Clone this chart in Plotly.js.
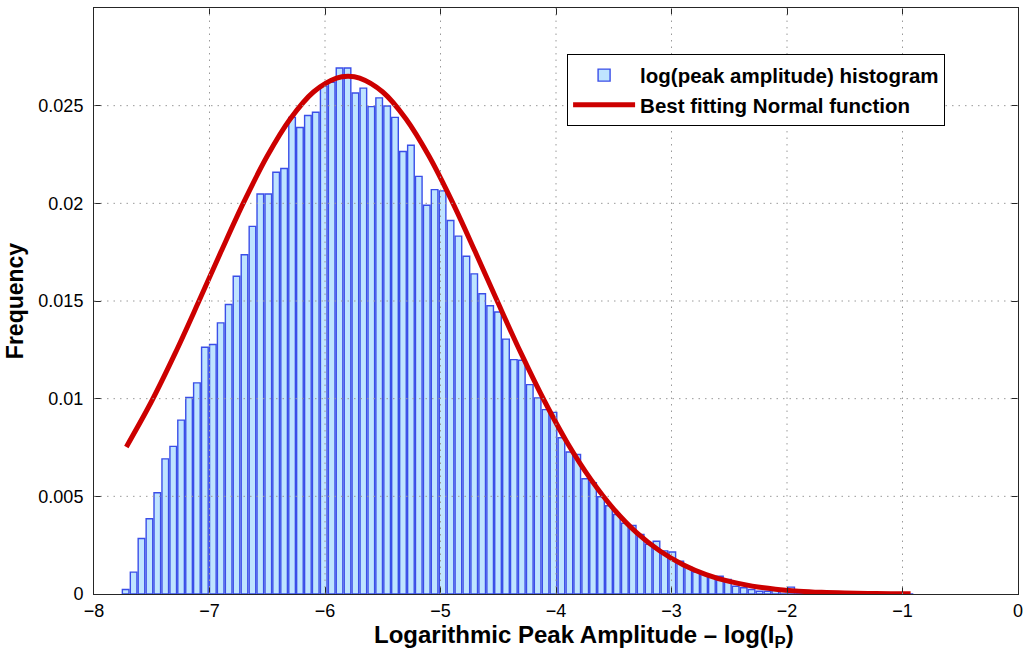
<!DOCTYPE html>
<html><head><meta charset="utf-8">
<script src="https://cdn.plot.ly/plotly-3.0.1.min.js"></script>
<style>html,body{margin:0;padding:0;background:#fff}#chart{width:1024px;height:653px}</style>
</head><body><div id="chart"></div>
<script>
// Histogram bin centres (log peak amplitude)
const binCenters = [-7.726,-7.657,-7.589,-7.520,-7.452,-7.383,-7.314,-7.246,-7.177,-7.109,
  -7.040,-6.971,-6.903,-6.834,-6.766,-6.697,-6.628,-6.560,-6.491,-6.423,
  -6.354,-6.285,-6.217,-6.148,-6.080,-6.011,-5.942,-5.874,-5.805,-5.737,
  -5.668,-5.599,-5.531,-5.462,-5.394,-5.325,-5.256,-5.188,-5.119,-5.051,
  -4.982,-4.913,-4.845,-4.776,-4.708,-4.639,-4.570,-4.502,-4.433,-4.365,
  -4.296,-4.227,-4.159,-4.090,-4.022,-3.953,-3.884,-3.816,-3.747,-3.679,
  -3.610,-3.541,-3.473,-3.404,-3.336,-3.267,-3.198,-3.130,-3.061,-2.993,
  -2.924,-2.855,-2.787,-2.718,-2.650,-2.581,-2.512,-2.444,-2.375,-2.307,
  -2.238,-2.169,-2.101,-2.032,-1.964,-1.895,-1.826,-1.758,-1.689,-1.621,
  -1.552,-1.483,-1.415,-1.346,-1.278,-1.209,-1.140,-1.072,-1.003,-0.935];

// Histogram frequencies
const frequency = [0.00023,0.00112,0.00284,0.00385,0.00518,0.00692,0.00756,0.00890,0.01006,0.01081,
  0.01263,0.01277,0.01388,0.01482,0.01627,0.01737,0.01882,0.02048,0.02048,0.02159,
  0.02178,0.02440,0.02388,0.02450,0.02466,0.02600,0.02620,0.02693,0.02693,0.02565,
  0.02590,0.02495,0.02540,0.02498,0.02440,0.02265,0.02297,0.02138,0.01990,0.02070,
  0.02064,0.01912,0.01832,0.01729,0.01639,0.01537,0.01476,0.01444,0.01305,0.01200,
  0.01197,0.01072,0.01004,0.00944,0.00930,0.00800,0.00727,0.00714,0.00590,0.00570,
  0.00498,0.00452,0.00407,0.00362,0.00351,0.00305,0.00255,0.00270,0.00221,0.00215,
  0.00168,0.00139,0.00112,0.00100,0.00085,0.00091,0.00074,0.00040,0.00032,0.00023,
  0.00014,0.00014,0.00020,0.00014,0.00035,0.00005,0.00003,0.00002,0.00002,0.00001,
  0.00001,0.00001,0,0,0,0,0,0,0,0];

// Best fitting Normal curve
const fitX = [-7.72,-7.5,-7.3,-7.1,-6.9,-6.7,-6.5,-6.3,-6.1,-5.9,-5.8,-5.7,-5.5,-5.3,-5.1,-4.9,
  -4.7,-4.5,-4.3,-4.1,-3.9,-3.7,-3.5,-3.3,-3.1,-2.9,-2.7,-2.5,-2.3,-2.1,-1.9,-1.7,-1.5,-1.3,-1.1,-0.93];
const fitY = [0.00753,0.00988,0.01229,0.01488,0.01753,0.02010,0.02242,0.02433,0.02570,0.02641,0.0265,0.02641,
  0.02570,0.02433,0.02242,0.02010,0.01753,0.01488,0.01229,0.00988,0.00772,0.00588,0.00435,0.00313,
  0.00220,0.00150,0.000995,0.000643,0.000404,0.000247,0.000147,0.000085,0.000048,0.000026,0.000014,0.000008];

const xTickVals = [-8,-7,-6,-5,-4,-3,-2,-1,0];
const yTickVals = [0,0.005,0.01,0.015,0.02,0.025,0.03];
const yTickText = ['0','0.005','0.01','0.015','0.02','0.025','0.03'];

const axisColor = '#262626';
const gridColor = '#9a9a9a';
const gridDash = '1.5px,5px';
const shapes = [];
xTickVals.slice(1,-1).forEach(v => shapes.push({type:'line', layer:'above', xref:'x', yref:'paper', x0:v, x1:v, y0:0, y1:1, line:{color:gridColor, width:1, dash:gridDash}}));
yTickVals.slice(1,-1).forEach(v => shapes.push({type:'line', layer:'above', xref:'paper', yref:'y', x0:0, x1:1, y0:v, y1:v, line:{color:gridColor, width:1, dash:gridDash}}));

const traces = [
  {type:'bar', x:binCenters, y:frequency, name:'log(peak amplitude) histogram',
   marker:{color:'rgb(191,228,255)', line:{color:'rgb(58,78,232)', width:1.4}}},
  {type:'scatter', mode:'lines', x:fitX, y:fitY, name:'Best fitting Normal function',
   line:{color:'#cc0000', width:5, shape:'spline'}}
];

const font = {family:'"Liberation Sans", Arial, Helvetica, sans-serif', color:'#000'};

const layout = {
  width:1024, height:653,
  margin:{l:94, r:6, t:8, b:58.5},
  paper_bgcolor:'#fff', plot_bgcolor:'#fff',
  font:font,
  bargap:0.16,
  showlegend:true,
  legend:{x:0.512, y:0.921, xanchor:'left', yanchor:'top', bgcolor:'#fff', bordercolor:'#000', borderwidth:1,
    font:{family:font.family, size:20.5, weight:'bold', color:'#000'}, itemwidth:62, tracegroupgap:0},
  xaxis:{range:[-8,0], tickvals:xTickVals, ticks:'inside', ticklen:7, tickcolor:axisColor,
    showline:true, linecolor:axisColor, linewidth:1, mirror:'ticks', showgrid:false, zeroline:false,
    tickfont:{family:font.family, size:18, color:'#000'}, ticklabelstandoff:0},
  yaxis:{range:[0,0.03], tickvals:yTickVals, ticktext:yTickText, ticks:'inside', ticklen:7, tickcolor:axisColor,
    showline:true, linecolor:axisColor, linewidth:1, mirror:'ticks', showgrid:false, zeroline:false,
    tickfont:{family:font.family, size:18, color:'#000'}, ticklabelstandoff:6,
    title:{text:'Frequency', font:{family:font.family, size:23, weight:'bold', color:'#000'}, standoff:8}},
  shapes:shapes,
  annotations:[{xref:'paper', yref:'paper', x:0.530, y:-0.073, xanchor:'center', yanchor:'middle', showarrow:false,
    text:'Logarithmic Peak Amplitude – log(I<sub>P</sub>)', font:{family:font.family, size:24, weight:'bold', color:'#000'}}]
};

Plotly.newPlot('chart', traces, layout, {displayModeBar:false, staticPlot:true});
</script>
</body></html>
